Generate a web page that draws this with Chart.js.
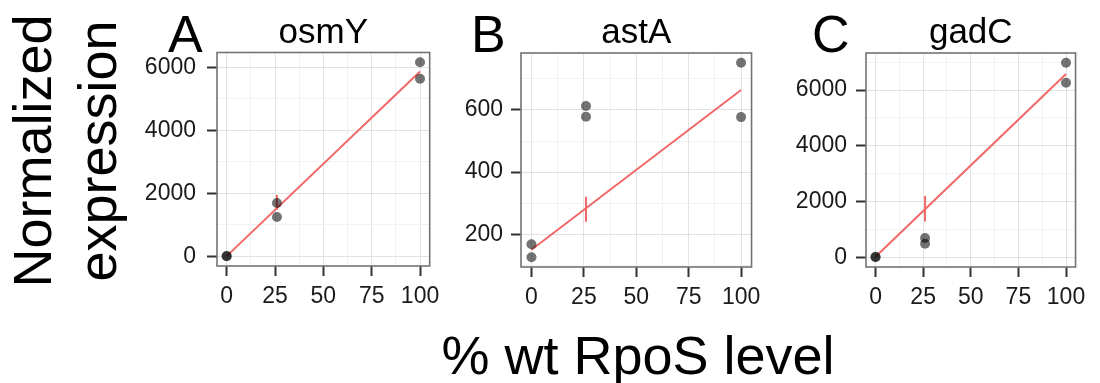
<!DOCTYPE html>
<html><head><meta charset="utf-8">
<script src="https://cdn.jsdelivr.net/npm/chart.js@4/dist/chart.umd.min.js"></script>
<style>
html,body{margin:0;padding:0;background:#fff;}
#wrap{position:relative;width:1100px;height:383px;overflow:hidden;font-family:'Liberation Sans',Arial,Helvetica,sans-serif;color:#000;}
#wrap canvas{position:absolute;}
.lbl{position:absolute;line-height:52px;font-size:52px;}
#ytitle{position:absolute;left:-85px;top:86px;width:300px;height:130px;line-height:65px;font-size:54px;text-align:center;transform:rotate(-90deg);white-space:nowrap;}
#xtitle{position:absolute;left:338px;top:323px;width:600px;line-height:65px;font-size:54px;text-align:center;white-space:nowrap;}
</style></head>
<body><div id="wrap">
<div id="ytitle">Normalized<br>expression</div>
<div id="xtitle">% wt RpoS level</div>
<div class="lbl" style="left:168px;top:8px">A</div>
<div class="lbl" style="left:471px;top:8px">B</div>
<div class="lbl" style="left:812px;top:8px">C</div>
<canvas id="cA" width="320" height="315" style="left:127px;top:0"></canvas>
<canvas id="cB" width="337" height="315" style="left:431px;top:0"></canvas>
<canvas id="cC" width="317" height="315" style="left:776px;top:0"></canvas>
</div>
<script>
// ---- data ----
const genes = ['osmY', 'astA', 'gadC'];
const rposLevel = [0, 0, 26, 26, 100, 100];
const osmYExpr = [15, 5, 1696, 1254, 6167, 5643];
const astAExpr = [168, 126, 613, 578, 752, 577];
const gadCExpr = [30, 10, 700, 495, 6977, 6261];
const fitX = [0, 100];
const osmYFit = [10, 5873];
const astAFit = [150, 664];
const gadCFit = [30, 6570];
const errX = 26;
const osmYErr = [1480, 1950];
const astAErr = [240, 321];
const gadCErr = [1288, 2207];
const xMajorTicks = [0, 25, 50, 75, 100];
const xMinorTicks = [12.5, 37.5, 62.5, 87.5];
const osmYMajor = [0, 2000, 4000, 6000];
const osmYMinor = [1000, 3000, 5000];
const astAMajor = [200, 400, 600];
const astAMinor = [100, 300, 500, 700];
const gadCMajor = [0, 2000, 4000, 6000];
const gadCMinor = [1000, 3000, 5000, 7000];

const FONT = "'Liberation Sans', Arial, Helvetica, sans-serif";
const RED = '#F06868';

const panelBorder = {
  id: 'panelBorder',
  afterDatasetsDraw(chart) {
    const {ctx, chartArea: a} = chart;
    ctx.save();
    ctx.strokeStyle = '#737373';
    ctx.lineWidth = 1.6;
    ctx.strokeRect(a.left, a.top, a.width, a.height);
    ctx.restore();
  }
};

function makePanel(id, gene, expr, fit, err, yMajor, yMinor, opt) {
  const allY = expr.concat(fit, err);
  const lo = Math.min(...allY), hi = Math.max(...allY);
  const pad = (hi - lo) * 0.05;
  const pts = rposLevel.map((x, i) => ({x: x, y: expr[i]}));
  const line = fitX.map((x, i) => ({x: x, y: fit[i]}));
  const bar = err.map(v => ({x: errX, y: v}));
  const tickSet = (maj, min) => maj.concat(min).sort((a, b) => a - b).map(v => ({value: v}));
  new Chart(document.getElementById(id), {
    type: 'scatter',
    data: {
      datasets: [
        {data: pts, backgroundColor: 'rgba(0,0,0,0.55)', borderWidth: 0, pointRadius: 5, order: 0},
        {data: line, showLine: true, borderColor: RED, borderWidth: 2, pointRadius: 0, order: 1},
        {data: bar, showLine: true, borderColor: RED, borderWidth: 2, pointRadius: 0, order: 2}
      ]
    },
    options: {
      responsive: false, animation: false, events: [],
      layout: {padding: {left: 0, right: 8, top: 0, bottom: 0}},
      plugins: {
        legend: {display: false}, tooltip: {enabled: false},
        title: {display: true, text: gene, fullSize: false, color: '#000',
          font: {size: 35, family: FONT, weight: 'normal', lineHeight: 1.1},
          padding: {top: 14, bottom: opt.titleBottom}}
      },
      scales: {
        x: {
          type: 'linear', min: -5, max: 105,
          afterBuildTicks: s => { s.ticks = tickSet(xMajorTicks, xMinorTicks); },
          afterFit: s => { s.height = opt.xh; },
          ticks: {callback: v => xMajorTicks.includes(v) ? String(v) : '', autoSkip: false, maxRotation: 0,
            font: {size: 23, family: FONT}, color: '#1a1a1a', padding: 7},
          grid: {color: c => xMajorTicks.includes(c.tick.value) ? '#e2e2e2' : '#f2f2f2',
            tickColor: c => xMajorTicks.includes(c.tick.value) ? '#333' : 'rgba(0,0,0,0)',
            tickLength: 10, tickWidth: 2, lineWidth: 1},
          border: {display: false}
        },
        y: {
          type: 'linear', min: lo - pad, max: hi + pad,
          afterBuildTicks: s => { s.ticks = tickSet(yMajor, yMinor); },
          afterFit: s => { s.width = 90; },
          ticks: {callback: v => yMajor.includes(v) ? String(v) : '', autoSkip: false,
            font: {size: 23, family: FONT}, color: '#1a1a1a', padding: opt.ypad},
          grid: {color: c => yMajor.includes(c.tick.value) ? '#e2e2e2' : '#f2f2f2',
            tickColor: c => yMajor.includes(c.tick.value) ? '#333' : 'rgba(0,0,0,0)',
            tickLength: 10, tickWidth: 2, lineWidth: 1},
          border: {display: false}
        }
      }
    },
    plugins: [panelBorder]
  });
}

makePanel('cA', genes[0], osmYExpr, osmYFit, osmYErr, osmYMajor, osmYMinor, {xh: 49, ypad: 11, titleBottom: 0});
makePanel('cB', genes[1], astAExpr, astAFit, astAErr, astAMajor, astAMinor, {xh: 48, ypad: 8, titleBottom: 0.5});
makePanel('cC', genes[2], gadCExpr, gadCFit, gadCErr, gadCMajor, gadCMinor, {xh: 48, ypad: 9, titleBottom: 0.5});
</script>
</body></html>
